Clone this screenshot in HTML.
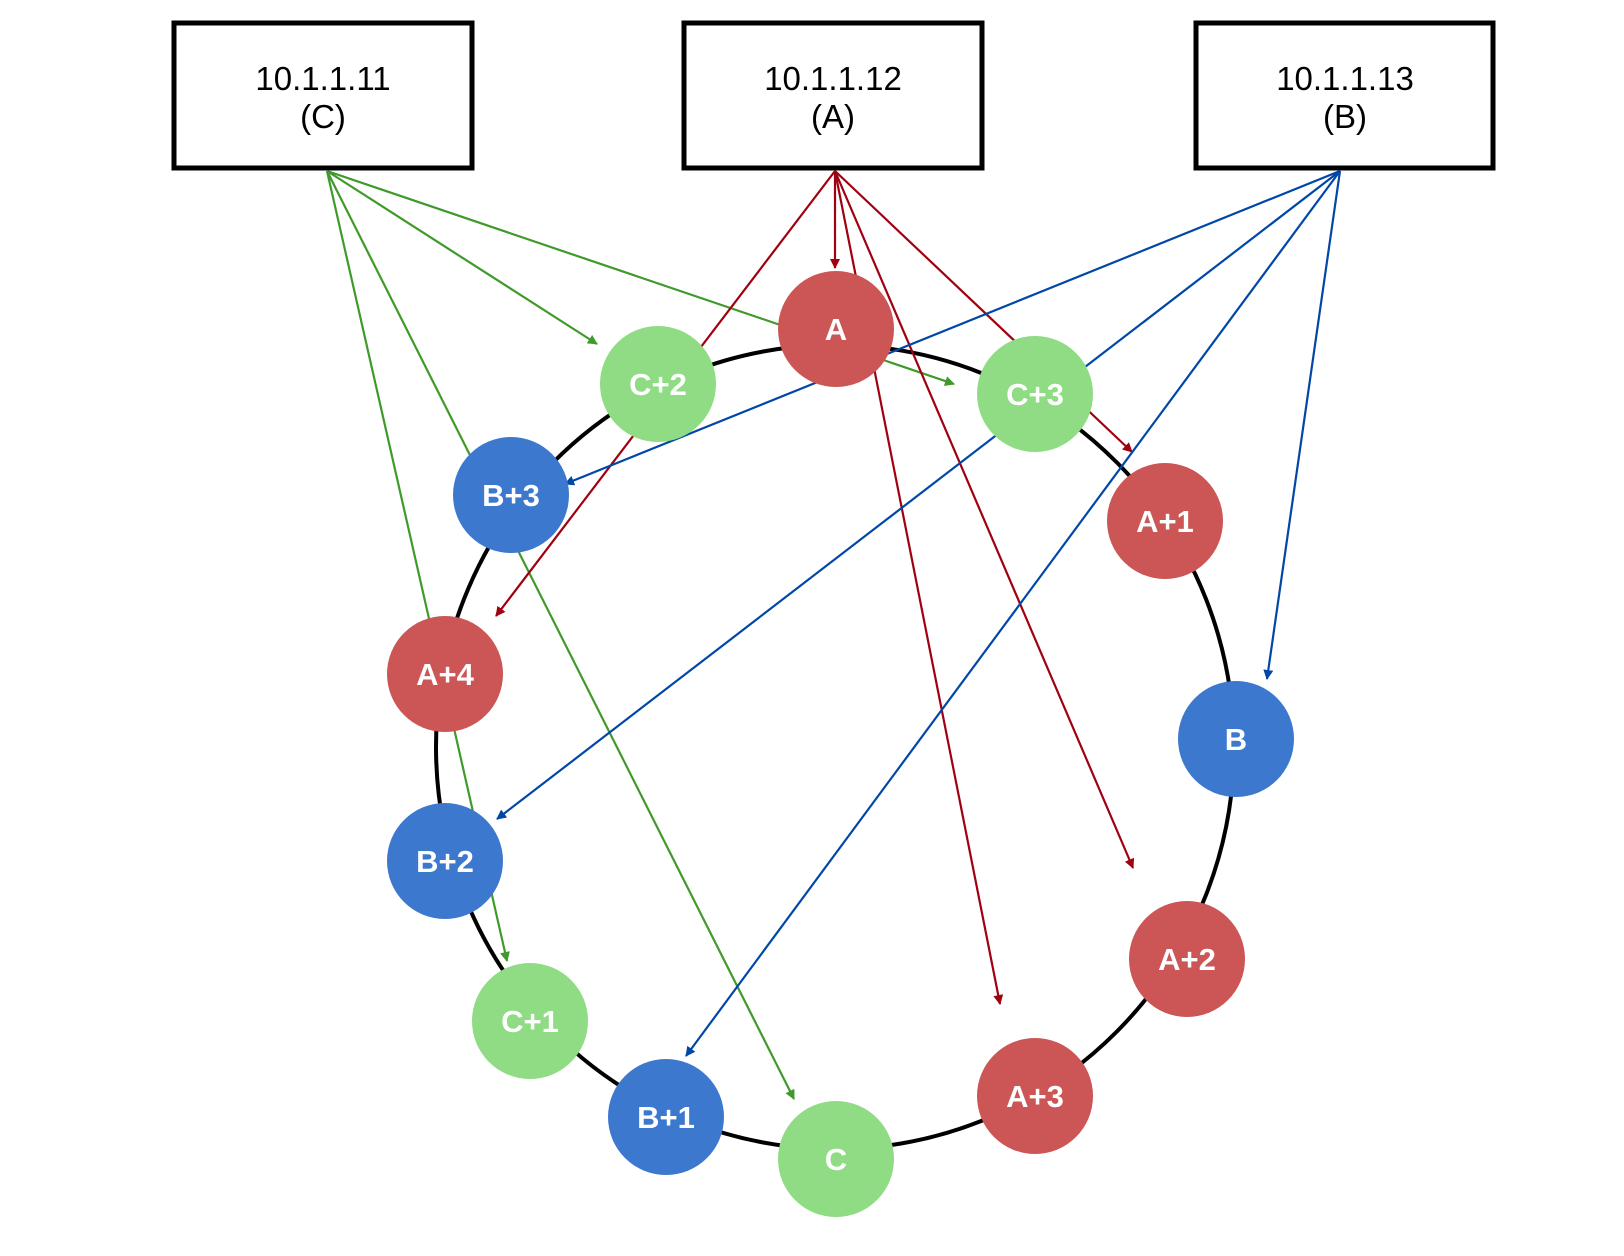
<!DOCTYPE html>
<html><head><meta charset="utf-8"><style>
html,body{margin:0;padding:0;background:#fff}
svg{display:block}
.box{fill:#fff;stroke:#000;stroke-width:5}
.bt{font-family:"Liberation Sans",sans-serif;font-size:33px;text-anchor:middle;fill:#000}
.ct{font-family:"Liberation Sans",sans-serif;font-size:31px;font-weight:bold;text-anchor:middle;fill:#fff}
.g{stroke:#3f9a2a;stroke-width:2.2;fill:none}
.r{stroke:#a00010;stroke-width:2.2;fill:none}
.b{stroke:#0047a8;stroke-width:2.2;fill:none}
</style></head><body>
<svg width="1624" height="1256" viewBox="0 0 1624 1256" xmlns="http://www.w3.org/2000/svg">
<defs>
<marker id="mg" markerWidth="10" markerHeight="10" refX="9" refY="5" orient="auto" markerUnits="userSpaceOnUse"><path d="M0,0 L10,5 L0,10 z" fill="#3f9a2a"/></marker>
<marker id="mr" markerWidth="10" markerHeight="10" refX="9" refY="5" orient="auto" markerUnits="userSpaceOnUse"><path d="M0,0 L10,5 L0,10 z" fill="#a00010"/></marker>
<marker id="mb" markerWidth="10" markerHeight="10" refX="9" refY="5" orient="auto" markerUnits="userSpaceOnUse"><path d="M0,0 L10,5 L0,10 z" fill="#0047a8"/></marker>
</defs>
<rect class="box" x="174" y="23" width="298" height="145"/>
<rect class="box" x="684" y="23" width="298" height="145"/>
<rect class="box" x="1196" y="23" width="297" height="145"/>
<text class="bt" x="323" y="90">10.1.1.11</text><text class="bt" x="323" y="128">(C)</text>
<text class="bt" x="833" y="90">10.1.1.12</text><text class="bt" x="833" y="128">(A)</text>
<text class="bt" x="1345" y="90">10.1.1.13</text><text class="bt" x="1345" y="128">(B)</text>
<ellipse cx="835" cy="747" rx="399" ry="402" fill="none" stroke="#000" stroke-width="4"/>
<!-- green -->
<line class="g" x1="327" y1="171" x2="597" y2="344" marker-end="url(#mg)"/>
<line class="g" x1="327" y1="171" x2="954" y2="384" marker-end="url(#mg)"/>
<line class="g" x1="327" y1="171" x2="507" y2="961" marker-end="url(#mg)"/>
<line class="g" x1="327" y1="171" x2="794" y2="1099" marker-end="url(#mg)"/>
<!-- red -->
<line class="r" x1="835" y1="171" x2="835" y2="268" marker-end="url(#mr)"/>
<line class="r" x1="835" y1="171" x2="496" y2="616" marker-end="url(#mr)"/>
<line class="r" x1="835" y1="171" x2="1132" y2="452" marker-end="url(#mr)"/>
<line class="r" x1="835" y1="171" x2="1133" y2="868" marker-end="url(#mr)"/>
<line class="r" x1="835" y1="171" x2="1000" y2="1004" marker-end="url(#mr)"/>
<!-- blue -->
<line class="b" x1="1340" y1="171" x2="565" y2="484" marker-end="url(#mb)"/>
<line class="b" x1="1340" y1="171" x2="497" y2="819" marker-end="url(#mb)"/>
<line class="b" x1="1340" y1="171" x2="686" y2="1056" marker-end="url(#mb)"/>
<line class="b" x1="1340" y1="171" x2="1267" y2="679" marker-end="url(#mb)"/>
<!-- circles -->
<g>
<circle cx="836" cy="329" r="58" fill="#cc5555"/><text class="ct" x="836" y="340">A</text>
<circle cx="658" cy="384" r="58" fill="#8fdc84"/><text class="ct" x="658" y="395">C+2</text>
<circle cx="1035" cy="394" r="58" fill="#8fdc84"/><text class="ct" x="1035" y="405">C+3</text>
<circle cx="511" cy="495" r="58" fill="#3d78cf"/><text class="ct" x="511" y="506">B+3</text>
<circle cx="1165" cy="521" r="58" fill="#cc5555"/><text class="ct" x="1165" y="532">A+1</text>
<circle cx="445" cy="674" r="58" fill="#cc5555"/><text class="ct" x="445" y="685">A+4</text>
<circle cx="1236" cy="739" r="58" fill="#3d78cf"/><text class="ct" x="1236" y="750">B</text>
<circle cx="445" cy="861" r="58" fill="#3d78cf"/><text class="ct" x="445" y="872">B+2</text>
<circle cx="1187" cy="959" r="58" fill="#cc5555"/><text class="ct" x="1187" y="970">A+2</text>
<circle cx="530" cy="1021" r="58" fill="#8fdc84"/><text class="ct" x="530" y="1032">C+1</text>
<circle cx="666" cy="1117" r="58" fill="#3d78cf"/><text class="ct" x="666" y="1128">B+1</text>
<circle cx="836" cy="1159" r="58" fill="#8fdc84"/><text class="ct" x="836" y="1170">C</text>
<circle cx="1035" cy="1096" r="58" fill="#cc5555"/><text class="ct" x="1035" y="1107">A+3</text>
</g>
</svg>
</body></html>
